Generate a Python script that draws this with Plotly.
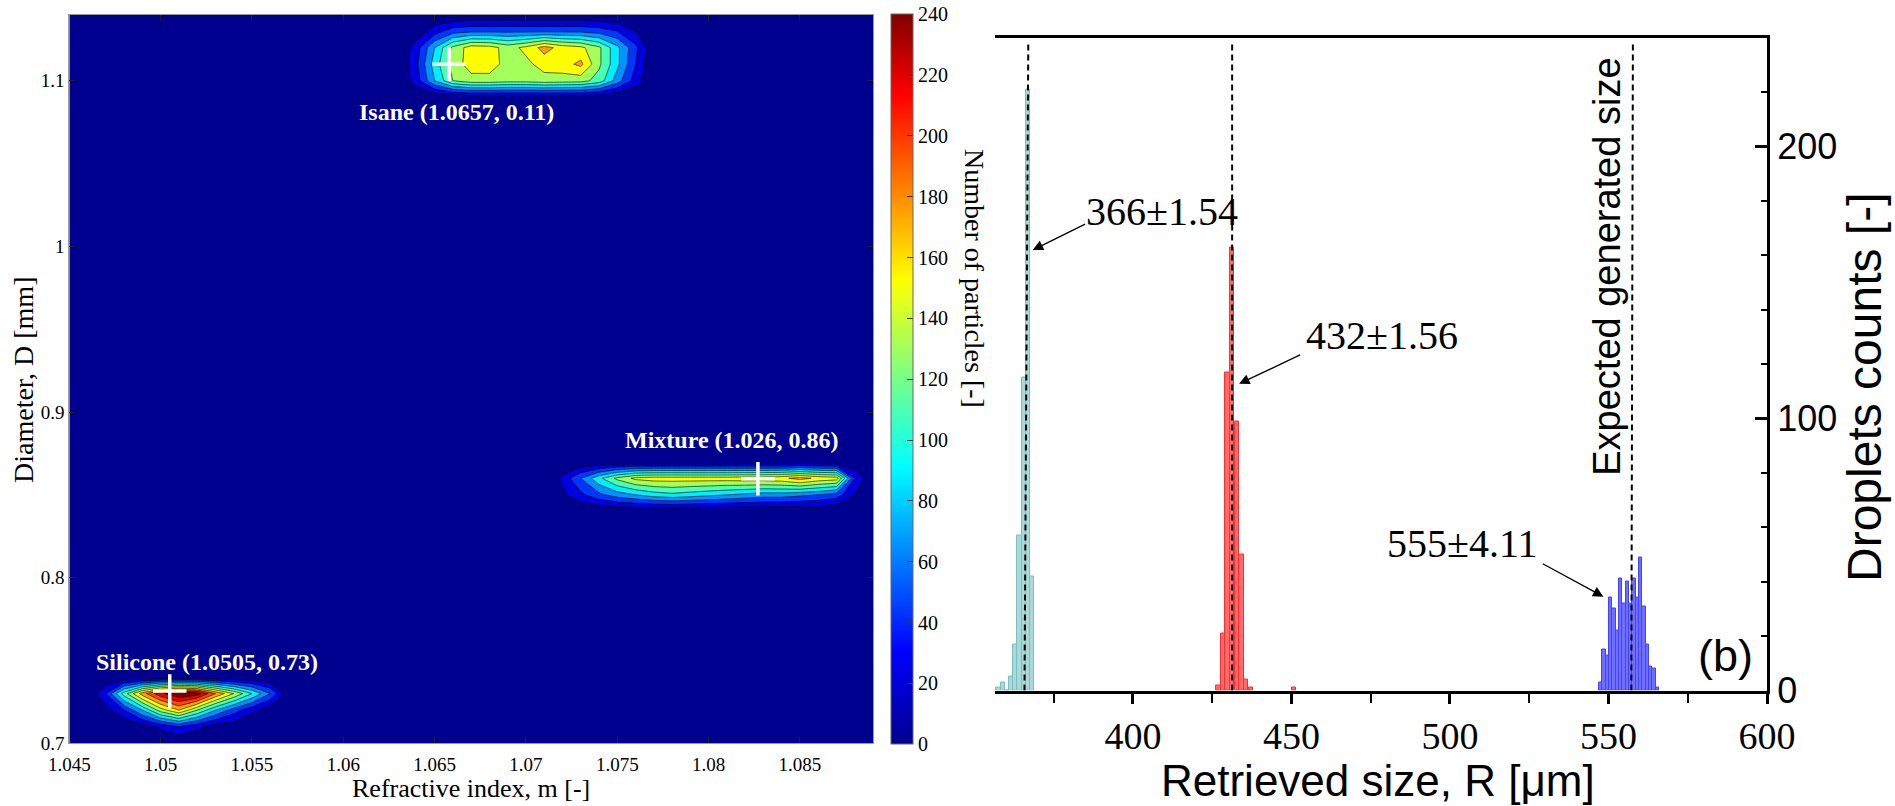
import numpy as np
import plotly.graph_objects as go

W, H = 1895, 806

# ---------------- panel (a): particle map (refractive index vs diameter) ----------------
m_grid = np.round(np.arange(1.045, 1.0895, 0.001), 3)     # refractive index grid
d_grid = np.round(np.arange(0.70, 1.1405, 0.01), 2)       # diameter grid [mm]

silicone_d = [0.71, 0.72, 0.73]
silicone_m0 = 1.046
silicone_counts = [
    [0, 0, 0, 10, 25, 40, 25, 10, 5, 0, 0, 0],
    [0, 10, 40, 80, 130, 160, 120, 80, 50, 25, 5, 0],
    [0, 40, 110, 170, 215, 238, 230, 180, 140, 100, 60, 0],
]

isane_d = [1.09, 1.10, 1.11, 1.12, 1.13]
isane_m0 = 1.063
isane_counts = [
    [0, 0, 0, 5, 8, 8, 8, 8, 8, 8, 8, 5, 0, 0, 0],
    [0, 30, 80, 120, 132, 132, 128, 128, 132, 130, 128, 112, 70, 30, 0],
    [0, 35, 90, 128, 150, 150, 132, 135, 148, 152, 165, 124, 85, 40, 0],
    [0, 30, 80, 125, 150, 148, 132, 145, 168, 152, 145, 124, 85, 45, 0],
    [0, 8, 30, 50, 55, 55, 55, 55, 55, 55, 55, 50, 40, 20, 0],
]

mixture_d = [0.85, 0.86]
mixture_m0 = 1.071
mixture_counts = [
    [0, 15, 35, 55, 70, 80, 90, 95, 90, 85, 80, 75, 70, 70, 65, 60, 50, 20, 0],
    [0, 25, 60, 95, 125, 145, 150, 150, 150, 150, 150, 152, 152, 155, 168, 155, 150, 40, 0],
]

centre_names = ["Silicone (1.0505, 0.73)", "Isane (1.0657, 0.11)", "Mixture (1.026, 0.86)"]
centre_m = [1.0505, 1.0658, 1.0827]
centre_d = [0.7315, 1.1100, 0.8597]

a_xtick_vals = [1.045, 1.05, 1.055, 1.06, 1.065, 1.07, 1.075, 1.08, 1.085]
a_xtick_text = ["1.045", "1.05", "1.055", "1.06", "1.065", "1.07", "1.075", "1.08", "1.085"]
a_ytick_vals = [0.7, 0.8, 0.9, 1.0, 1.1]
a_ytick_text = ["0.7", "0.8", "0.9", "1", "1.1"]
cbar_ticks = [0, 20, 40, 60, 80, 100, 120, 140, 160, 180, 200, 220, 240]

# ---------------- panel (b): retrieved size histograms ----------------
cyan_r = [357.57, 358.90, 360.23, 361.56, 362.90, 364.22, 365.55, 366.88, 368.21]
cyan_n = [1, 3, 0, 5, 17, 57, 115, 221, 42]
cyan_w = 1.33

red_r = [426.9, 428.4, 429.9, 431.3, 432.8, 434.3, 435.7, 437.2, 450.8]
red_n = [2, 21, 117, 163, 99, 50, 4, 1, 1]
red_w = 1.47

blue_r = [547.53, 548.58, 549.63, 550.68, 551.74, 552.79, 553.84, 554.89, 555.94,
          557.00, 558.05, 559.10, 560.15, 561.20, 562.25, 563.30, 564.35, 565.41]
blue_n = [3, 15, 13, 34, 30, 22, 41, 32, 40, 32, 41, 34, 49, 31, 17, 9, 8, 1]
blue_w = 1.05

expected_top_r = [367.0, 431.3, 557.7]
expected_bot_r = [365.8, 431.3, 557.2]
expected_top_n = 238

stat_labels = ["366\u00b11.54", "432\u00b11.56", "555\u00b14.11"]
stat_text_r = [409.3, 478.5, 503.7]
stat_text_n = [176.0, 130.3, 54.0]
arrow_tail_r = [385.4, 453.2, 528.8]
arrow_tail_n = [171.7, 123.6, 46.9]
arrow_head_r = [368.4, 433.5, 548.4]
arrow_head_n = [161.9, 112.7, 34.5]

# ---------------- assemble contour table ----------------
z = np.zeros((len(d_grid), len(m_grid)))
for rows_d, m0, counts in [(silicone_d, silicone_m0, silicone_counts),
                           (isane_d, isane_m0, isane_counts),
                           (mixture_d, mixture_m0, mixture_counts)]:
    j0 = int(np.argmin(np.abs(m_grid - m0)))
    for dv, row in zip(rows_d, counts):
        i = int(np.argmin(np.abs(d_grid - dv)))
        z[i, j0:j0 + len(row)] = row

jet = [[0.0, "rgb(0,0,143)"], [0.127, "rgb(0,0,255)"], [0.381, "rgb(0,255,255)"],
       [0.635, "rgb(255,255,0)"], [0.889, "rgb(255,0,0)"], [1.0, "rgb(128,0,0)"]]

SERIF = "Liberation Serif"
SANS = "Liberation Sans"

fig = go.Figure()

fig.add_trace(go.Contour(
    x=m_grid, y=d_grid, z=z, xaxis="x", yaxis="y",
    colorscale=jet, autocontour=False,
    contours=dict(start=20, end=220, size=20, coloring="fill", showlines=True),
    line=dict(color="black", width=0.6, smoothing=0),
    showscale=False, hoverinfo="skip",
))

# colour bar (continuous jet, 0-240)
fig.add_trace(go.Scatter(
    x=[None], y=[None], xaxis="x", yaxis="y", mode="markers", showlegend=False,
    marker=dict(color=[0], colorscale=jet, cmin=0, cmax=240, showscale=True,
                colorbar=dict(x=891 / W, xanchor="left", y=1 - 379.2 / H, yanchor="middle",
                              len=729.6 / H, lenmode="fraction", thickness=22,
                              thicknessmode="pixels", xpad=0, ypad=0,
                              outlinewidth=1, outlinecolor="#666",
                              tickmode="array", tickvals=cbar_ticks,
                              ticks="inside", ticklen=6, tickcolor="#333",
                              tickfont=dict(family=SERIF, size=20, color="black"))),
))

fig.add_trace(go.Scatter(
    x=centre_m, y=centre_d, xaxis="x", yaxis="y", mode="markers", showlegend=False,
    marker=dict(symbol="cross-thin", size=24, line=dict(color="white", width=3.5)),
    hoverinfo="skip",
))

# histograms
for rr, nn, ww, fc, lc in [(cyan_r, cyan_n, cyan_w, "#a9d9d9", "#7cbfbf"),
                           (red_r, red_n, red_w, "#ff6b6b", "#ff2f2f"),
                           (blue_r, blue_n, blue_w, "#6e6eff", "#4343ff")]:
    fig.add_trace(go.Bar(x=rr, y=nn, width=[ww] * len(rr), xaxis="x2", yaxis="y2",
                         marker=dict(color=fc, line=dict(color=lc, width=1)),
                         showlegend=False, hoverinfo="skip"))

for xb, xt in zip(expected_bot_r, expected_top_r):
    fig.add_trace(go.Scatter(x=[xb, xt], y=[0, expected_top_n], xaxis="x2", yaxis="y2",
                             mode="lines", line=dict(color="black", width=2, dash="6px,4px"),
                             showlegend=False, hoverinfo="skip"))

annotations = []
label_pos = [(1.05255, 0.7493), (1.06619, 1.0812), (1.0813, 0.8832)]
for name, (lx, ly) in zip(centre_names, label_pos):
    annotations.append(dict(x=lx, y=ly, xref="x", yref="y", text="<b>%s</b>" % name,
                            showarrow=False, xanchor="center", yanchor="middle",
                            font=dict(family=SERIF, size=24, color="white")))

for t, tx, ty in zip(stat_labels, stat_text_r, stat_text_n):
    annotations.append(dict(x=tx, y=ty, xref="x2", yref="y2", text=t, showarrow=False,
                            xanchor="center", yanchor="middle",
                            font=dict(family=SERIF, size=40, color="black")))
for hx, hy, tx, ty in zip(arrow_head_r, arrow_head_n, arrow_tail_r, arrow_tail_n):
    annotations.append(dict(x=hx, y=hy, xref="x2", yref="y2", ax=tx, ay=ty,
                            axref="x2", ayref="y2", text="", showarrow=True,
                            arrowhead=2, arrowsize=1.6, arrowwidth=1.3, arrowcolor="black",
                            standoff=0, startstandoff=0))

annotations += [
    dict(x=549.5, y=155.7, xref="x2", yref="y2", text="Expected generated size", textangle=-90,
         showarrow=False, xanchor="center", yanchor="middle",
         font=dict(family=SANS, size=38, color="black")),
    dict(x=586.8, y=13, xref="x2", yref="y2", text="(b)", showarrow=False,
         xanchor="center", yanchor="middle", font=dict(family=SANS, size=45, color="black")),
    dict(x=471 / W, y=1 - 788 / H, xref="paper", yref="paper", text="Refractive index, m [-]",
         showarrow=False, xanchor="center", yanchor="middle", borderpad=0,
         font=dict(family=SERIF, size=26, color="black")),
    dict(x=23 / W, y=1 - 380 / H, xref="paper", yref="paper", text="Diameter, D [mm]",
         textangle=-90, showarrow=False, xanchor="center", yanchor="middle",
         font=dict(family=SERIF, size=28, color="black")),
    dict(x=975 / W, y=1 - 278 / H, xref="paper", yref="paper", text="Number of particles [-]",
         textangle=90, showarrow=False, xanchor="center", yanchor="middle",
         font=dict(family=SERIF, size=28, color="black")),
    dict(x=1378 / W, y=0, xref="paper", yref="paper", text="Retrieved size, R [\u03bcm]",
         showarrow=False, xanchor="center", yanchor="bottom", borderpad=0,
         font=dict(family=SANS, size=44, color="black")),
    dict(x=1864 / W, y=1 - 388 / H, xref="paper", yref="paper", text="Droplets counts [-]",
         textangle=-90, showarrow=False, xanchor="center", yanchor="middle",
         font=dict(family=SANS, size=48, color="black")),
]

fig.update_layout(
    template="none",
    width=W, height=H, margin=dict(l=0, r=0, t=0, b=0, pad=0, autoexpand=False),
    paper_bgcolor="white", plot_bgcolor="white", barmode="overlay", bargap=0,
    showlegend=False, annotations=annotations,
    xaxis=dict(domain=[69.3 / W, 873 / W], range=[1.045, 1.089], anchor="y", automargin=False,
               tickmode="array", tickvals=a_xtick_vals, ticktext=a_xtick_text,
               ticks="inside", ticklen=6, tickcolor="#222", showline=True, linecolor="#999",
               linewidth=1, mirror="ticks", showgrid=False, zeroline=False,
               ticklabelstandoff=4,
               tickfont=dict(family=SERIF, size=19, color="black")),
    yaxis=dict(domain=[1 - 743.3 / H, 1 - 14.5 / H], range=[0.7, 1.14], anchor="x",
               automargin=False,
               tickmode="array", tickvals=a_ytick_vals, ticktext=a_ytick_text,
               ticks="inside", ticklen=6, tickcolor="#222", showline=True, linecolor="#999",
               linewidth=1, mirror="ticks", showgrid=False, zeroline=False,
               tickfont=dict(family=SERIF, size=19, color="black")),
    xaxis2=dict(domain=[995 / W, 1767 / W], range=[356.5, 600], anchor="y2", automargin=False,
                tick0=400, dtick=50, ticks="outside", ticklen=10, tickwidth=2.5,
                tickcolor="black", showline=True, linecolor="black", linewidth=3,
                mirror=True, showgrid=False, zeroline=False,
                minor=dict(tick0=375, dtick=50, ticks="outside", ticklen=9, tickwidth=2,
                           tickcolor="black"),
                tickfont=dict(family=SERIF, size=38, color="black")),
    yaxis2=dict(domain=[1 - 690.5 / H, 1 - 37.5 / H], range=[0, 240], anchor="x2",
                automargin=False,
                side="right", tick0=0, dtick=100, ticks="inside", ticklen=12, tickwidth=2.5,
                tickcolor="black", showline=True, linecolor="black", linewidth=3,
                showgrid=False, zeroline=False,
                minor=dict(dtick=20, ticks="inside", ticklen=6, tickwidth=2, tickcolor="black"),
                tickfont=dict(family=SANS, size=36, color="black")),
)

fig.write_html("out.html", config={"displayModeBar": False},
               post_script="document.body.style.margin='0px';"
                           "document.body.style.overflow='hidden';")
